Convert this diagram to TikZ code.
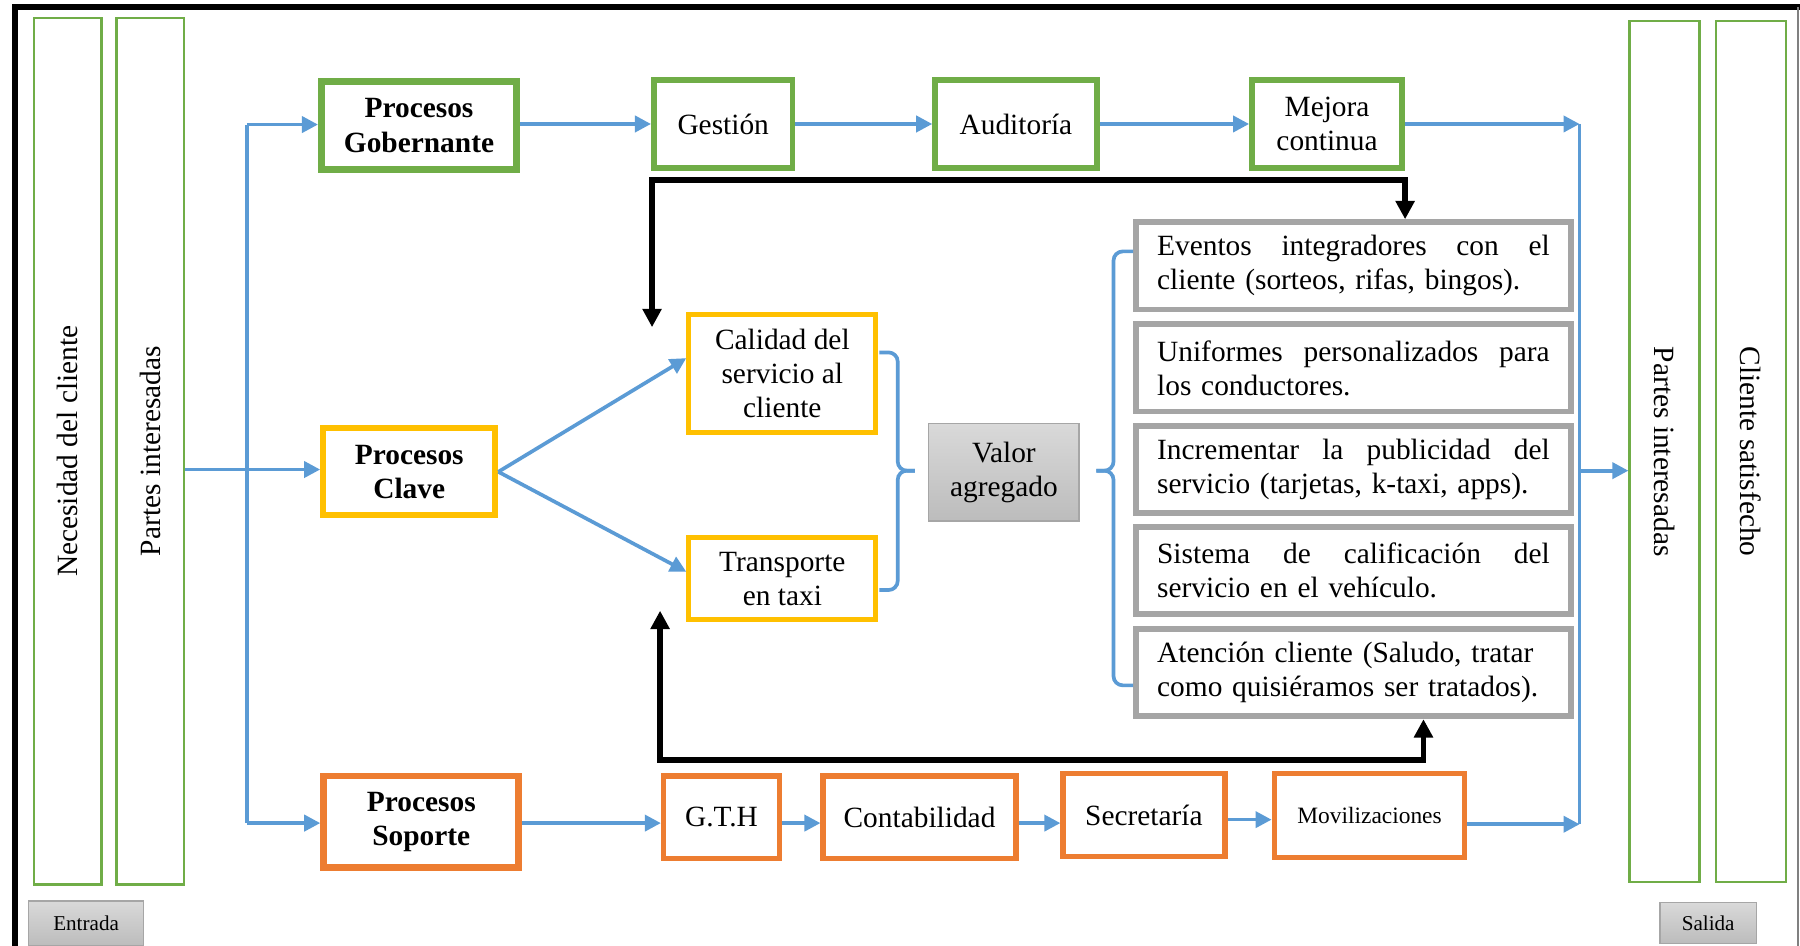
\documentclass[tikz,border=0pt]{standalone}
\usepackage{fontspec}
\setmainfont{Liberation Serif}
\usetikzlibrary{arrows.meta}
\definecolor{cgreen}{HTML}{70AD47}
\definecolor{cyellow}{HTML}{FFC000}
\definecolor{corange}{HTML}{ED7D31}
\definecolor{cblue}{HTML}{5B9BD5}
\definecolor{cgray}{HTML}{A5A5A5}
\definecolor{gtop}{HTML}{D9D9D9}
\definecolor{gbot}{HTML}{BCBCBC}
\definecolor{gline}{HTML}{A6A6A6}
\newcommand\mainsz{\fontsize{12.8pt}{14.8pt}\selectfont}
\begin{document}
\begin{tikzpicture}[x=0.5pt,y=-0.5pt,
  every node/.style={font=\mainsz, inner sep=0pt},
  boxbase/.style={draw, fill=white, align=center},
  gbox/.style={boxbase, draw=cgreen, line width=2.4pt},
  ybox/.style={boxbase, draw=cyellow, line width=2.2pt},
  obox/.style={boxbase, draw=corange, line width=2.3pt},
  lbox/.style={boxbase, draw=cgray, line width=2.5pt, text width=171pt, align=left},
  tall/.style={boxbase, draw=cgreen, line width=1pt},
  shbox/.style={draw=gline, line width=0.6pt, top color=gtop, bottom color=gbot, align=center},
  bl/.style={draw=cblue, line width=1.6pt},
  ba/.style={bl, -{Triangle[length=7pt,width=7pt]}},
  blk/.style={draw=black, line width=2.5pt, {Triangle[length=8pt,width=8pt]}-{Triangle[length=8pt,width=8pt]}}
]
\fill[white] (0,0) rectangle (1568,824);
\useasboundingbox (0,0) rectangle (1568,824);
% frame
\draw[line width=2.8pt] (13,830) -- (13,6) -- (1570,6);
\draw[gray, line width=0.8pt] (1566,6) -- (1566,830);

% tall side boxes
\node[tall, rotate=90, minimum width=377.5pt, minimum height=29.5pt] (nec) at (59,393) {Necesidad del cliente};
\node[tall, rotate=90, minimum width=377.5pt, minimum height=29.5pt] (pin) at (131,393) {Partes interesadas};
\node[tall, rotate=-90, minimum width=375pt, minimum height=30.5pt] (pout) at (1450,393.5) {Partes interesadas};
\node[tall, rotate=-90, minimum width=375pt, minimum height=30.5pt] (cli) at (1525,393.5) {Cliente satisfecho};

% Entrada / Salida
\node[shbox, minimum width=50pt, minimum height=19.5pt, font=\fontsize{9.2pt}{11pt}\selectfont] (ent) at (75,804.5) {Entrada};
\node[shbox, minimum width=42pt, minimum height=18pt, font=\fontsize{9.2pt}{11pt}\selectfont] (sal) at (1488,804) {Salida};

% top row
\node[gbox, line width=3pt, minimum width=85pt, minimum height=38.5pt, font=\fontsize{12.8pt}{15pt}\selectfont\bfseries] (gob) at (365,109.5) {Procesos\\Gobernante};
\node[gbox, minimum width=60.5pt, minimum height=38.5pt] (ges) at (630,108) {Gestión};
\node[gbox, minimum width=70.5pt, minimum height=38.5pt] (aud) at (885,108) {Auditoría};
\node[gbox, minimum width=65.5pt, minimum height=38.5pt] (mej) at (1156,108) {Mejora\\continua};

% middle
\node[ybox, line width=2.6pt, minimum width=75pt, minimum height=38pt, font=\fontsize{12.8pt}{15pt}\selectfont\bfseries] (cla) at (356.5,411) {Procesos\\Clave};
\node[ybox, minimum width=81.5pt, minimum height=51.5pt] (cal) at (681.5,325.5) {Calidad del\\servicio al\\cliente};
\node[ybox, minimum width=81.5pt, minimum height=36pt] (tra) at (681.5,504) {Transporte\\en taxi};
\node[shbox, minimum width=65.5pt, minimum height=42.5pt] (val) at (874.5,411.5) {Valor\\agregado};

% list
\node[lbox, minimum width=189.5pt, minimum height=38pt] (e1) at (1179,231.5) {\hbox to 171pt{Eventos\hfill integradores\hfill con\hfill el}\\cliente (sorteos, rifas, bingos).};
\node[lbox, minimum width=189.5pt, minimum height=38pt] (e2) at (1179,320.5) {\hbox to 171pt{Uniformes\hfill personalizados\hfill para}\\los conductores.};
\node[lbox, minimum width=189.5pt, minimum height=38pt] (e3) at (1179,409) {\hbox to 171pt{Incrementar\hfill la\hfill publicidad\hfill del}\\servicio (tarjetas, k-taxi, apps).};
\node[lbox, minimum width=189.5pt, minimum height=38pt] (e4) at (1179,497) {\hbox to 171pt{Sistema\hfill de\hfill calificación\hfill del}\\servicio en el vehículo.};
\node[lbox, minimum width=189.5pt, minimum height=38pt] (e5) at (1179,586) {Atención cliente (Saludo, tratar\\como quisiéramos ser tratados).};

% bottom row
\node[obox, line width=3pt, minimum width=85pt, minimum height=40pt, font=\fontsize{12.8pt}{15pt}\selectfont\bfseries] (sop) at (367,716) {Procesos\\Soporte};
\node[obox, minimum width=50.5pt, minimum height=36pt] (gth) at (628.5,712) {G.T.H};
\node[obox, minimum width=84pt, minimum height=36pt] (con) at (801,712) {Contabilidad};
\node[obox, minimum width=70.5pt, minimum height=36pt] (sec) at (996.5,710) {Secretaría};
\node[obox, minimum width=83pt, minimum height=36.5pt, font=\fontsize{10.2pt}{12pt}\selectfont] (mov) at (1193,710.5) {Movilizaciones};

% left trunk
\coordinate (lt) at (215,108.5);
\coordinate (lb) at (215,717);
\draw[bl] (lt) -- (lb);
\draw[ba] (lt) -- (gob.west |- lt);
\draw[ba] (lb) -- (sop.west |- lb);
\draw[ba] (pin.south |- 0,409) -- (cla.west |- 0,409);

% top row arrows
\draw[ba] (gob.east |- 0,108) -- (ges.west);
\draw[ba] (ges.east) -- (aud.west);
\draw[ba] (aud.east) -- (mej.west);

% bottom row arrows
\draw[ba] (sop.east |- 0,717) -- (gth.west |- 0,717);
\draw[ba] (gth.east |- 0,717) -- (con.west |- 0,717);
\draw[ba] (con.east |- 0,717) -- (sec.west |- 0,717);
\draw[ba] (sec.east |- 0,714) -- (mov.west |- 0,714);

% right trunk
\coordinate (rt) at (1376,108);
\coordinate (rb) at (1376,718);
\coordinate (rm) at (1376,410);
\draw[bl] (rt) -- (rb);
\draw[ba] (mej.east) -- (rt);
\draw[ba] (mov.east |- rb) -- (rb);
\draw[ba] (rm) -- (pout.south |- rm);

% clave arrows
\draw[ba] (cla.east) -- ([yshift=6.75pt]cal.west);
\draw[ba] (cla.east) -- ([yshift=3pt]tra.west);

% braces
\draw[bl, rounded corners=4pt] (766,307) -| (782,410) -- (797,410);
\draw[bl, rounded corners=4pt] (766,514) -| (782,410) -- (797,410);
\draw[bl, rounded corners=4pt] (987,219) -| (970,410) -- (955,410);
\draw[bl, rounded corners=4pt] (987,597) -| (970,410) -- (955,410);

% black feedback arrows
\coordinate (ta) at (568,285);
\coordinate (tb) at (568,157);
\coordinate (tc) at (1224,157);
\draw[blk] (ta) -- (tb) -- (tc) -- (tc |- e1.north);
\coordinate (ba1) at (575,532);
\coordinate (bb) at (575,662);
\coordinate (bc) at (1240,662);
\draw[blk] (ba1) -- (bb) -- (bc) -- (bc |- e5.south);
\end{tikzpicture}
\end{document}
